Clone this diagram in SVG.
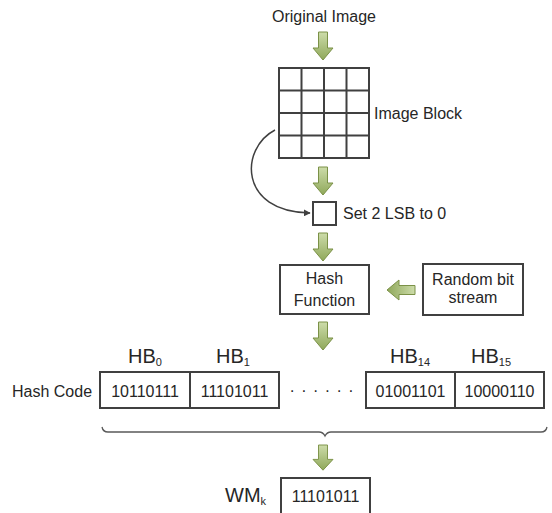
<svg xmlns="http://www.w3.org/2000/svg" width="552" height="513" viewBox="0 0 552 513">
<style>
text{font-family:"Liberation Sans",Arial,sans-serif;fill:#262626;font-size:16px}
.c{text-anchor:middle}
.box{fill:#fff;stroke:#404040;stroke-width:2}
.grid{fill:none;stroke:#404040;stroke-width:2}
.big{font-size:20px}
.sub{font-size:11px}
.conn{fill:none;stroke:#404040;stroke-width:1.5}
.brace{fill:none;stroke:#595959;stroke-width:1.3}
</style>
<defs>
<linearGradient id="g" x1="0" y1="0" x2="0" y2="1">
<stop offset="0" stop-color="#cddcaa"/>
<stop offset="1" stop-color="#8fa85a"/>
</linearGradient>
<path id="arr" d="M-4.5,0 H4.5 V16 H10 L0,28 L-10,16 H-4.5 Z" fill="url(#g)" stroke="#7b9147" stroke-width="1"/>
<marker id="ah" viewBox="0 0 10 10" refX="9" refY="5" markerWidth="7" markerHeight="7" orient="auto" markerUnits="userSpaceOnUse">
<path d="M0,0 L10,5 L0,10 Z" fill="#404040"/>
</marker>
</defs>
<rect width="552" height="513" fill="#fff"/>

<g id="original-image"><text class="c" x="324" y="22">Original Image</text></g>

<g id="image-block">
<rect class="grid" x="279" y="68" width="90" height="90"/>
<path class="grid" d="M301.5,68V158M324,68V158M346.5,68V158M279,90.5H369M279,113H369M279,135.5H369"/>
<text x="374" y="119">Image Block</text>
</g>

<g id="set-lsb">
<rect class="box" x="313" y="202" width="23" height="23" stroke-width="1.5"/>
<text x="343" y="219">Set 2 LSB to 0</text>
</g>

<g id="hash-function">
<rect class="box" x="280" y="265" width="89" height="49"/>
<text class="c" x="324.5" y="284">Hash</text>
<text class="c" x="324.5" y="306">Function</text>
</g>

<g id="random-bit-stream">
<rect class="box" x="423" y="264" width="100" height="51"/>
<text class="c" x="473" y="285">Random bit</text>
<text class="c" x="473" y="303">stream</text>
</g>

<g id="hash-code">
<text x="12" y="397">Hash Code</text>
<rect class="box" x="100" y="372" width="179" height="36"/>
<line x1="190" y1="372" x2="190" y2="408" stroke="#404040" stroke-width="2"/>
<rect class="box" x="366" y="372" width="178" height="36"/>
<line x1="455" y1="372" x2="455" y2="408" stroke="#404040" stroke-width="2"/>
<text class="c" x="145" y="397">10110111</text>
<text class="c" x="234.5" y="397">11101011</text>
<text class="c" x="410.5" y="397">01001101</text>
<text class="c" x="499.5" y="397">10000110</text>
<text class="c" x="322" y="396" font-size="14" letter-spacing="1">· · · · · ·</text>
<text x="128" y="363" class="big">HB<tspan class="sub" dy="3">0</tspan></text>
<text x="216" y="363" class="big">HB<tspan class="sub" dy="3">1</tspan></text>
<text x="390" y="363" class="big">HB<tspan class="sub" dy="3">14</tspan></text>
<text x="471" y="363" class="big">HB<tspan class="sub" dy="3">15</tspan></text>
</g>

<g id="wm">
<text x="225" y="502" class="big">WM<tspan class="sub" dy="3">k</tspan></text>
<path class="box" d="M281,520V478H370V520"/>
<text class="c" x="325.5" y="502">11101011</text>
</g>

<g id="connectors">
<use href="#arr" x="323" y="32"/>
<use href="#arr" x="323" y="167"/>
<use href="#arr" x="323" y="233"/>
<use href="#arr" x="323" y="322"/>
<use href="#arr" transform="translate(323,445) scale(1,0.9)"/>
<use href="#arr" transform="translate(415,290) rotate(90)"/>
<path class="conn" d="M275,130 C240,148 238,212 310,213" marker-end="url(#ah)"/>
<path class="brace" d="M102,427 Q103,432 108,432 H319 Q323,432 325,436 Q327,432 331,432 H541 Q546,432 547,427"/>
</g>
</svg>
